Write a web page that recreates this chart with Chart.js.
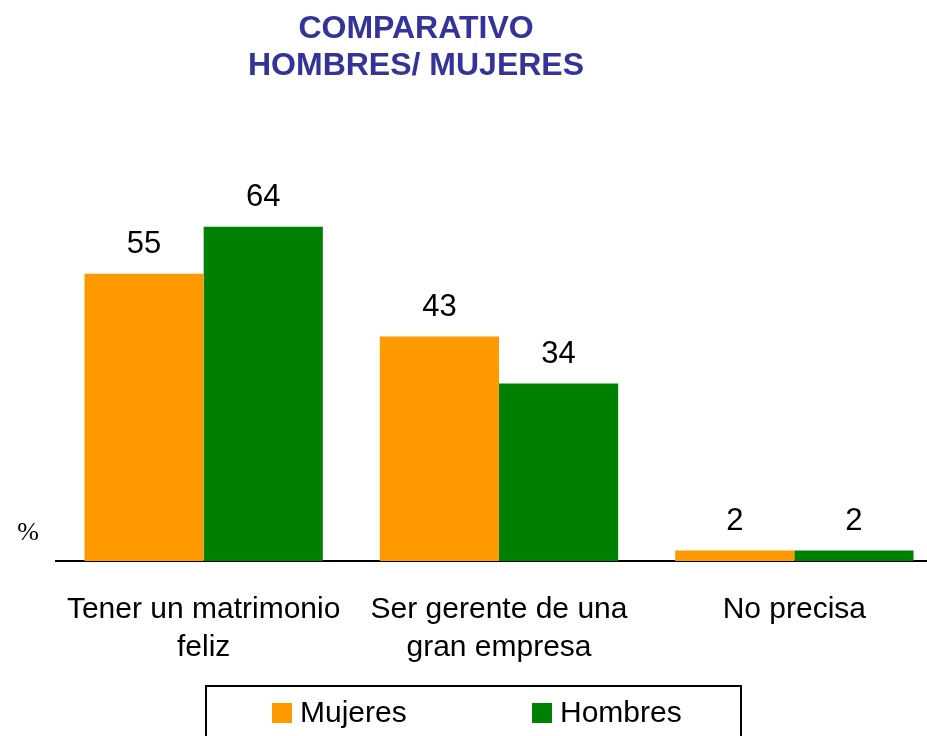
<!DOCTYPE html>
<html>
<head>
<meta charset="utf-8">
<script src="https://cdn.jsdelivr.net/npm/chart.js@4"></script>
<style>
  html, body { margin: 0; padding: 0; background: #fff; overflow: hidden; }
  #wrap { width: 945px; height: 736px; }
</style>
</head>
<body>
<div id="wrap"><canvas id="compChart"></canvas></div>
<script>
const categories = [['Tener un matrimonio', 'feliz'], ['Ser gerente de una', 'gran empresa'], 'No precisa'];
const mujeres = [55, 43, 2];
const hombres = [64, 34, 2];
const titleLines = ['COMPARATIVO', 'HOMBRES/ MUJERES'];
const seriesNames = ['Mujeres', 'Hombres'];
const seriesColors = ['#FF9900', '#008000'];

// title, "%" mark, value labels and boxed legend
const extras = {
    id: 'extras',
    afterDraw(chart) {
        const c = chart.ctx;
        c.save();
        c.textAlign = 'center';
        c.textBaseline = 'middle';
        c.fillStyle = '#333399';
        c.font = 'bold 32px "Liberation Sans", Arial, sans-serif';
        c.fillText(titleLines[0], 416, 29);
        c.fillText(titleLines[1], 416, 66);

        c.fillStyle = '#000';
        c.font = '26px "Liberation Serif", "Times New Roman", serif';
        c.fillText('%', 28, 533);

        c.font = '31px "Liberation Sans", Arial, sans-serif';
        chart.data.datasets.forEach((ds, i) => {
            chart.getDatasetMeta(i).data.forEach((bar, j) => {
                c.fillText(String(ds.data[j]), bar.x, bar.y - 29);
            });
        });

        // legend box
        c.strokeStyle = '#000';
        c.lineWidth = 2;
        c.strokeRect(206, 686, 535, 80);
        const items = [[272, 300], [532, 560]];
        c.textAlign = 'left';
        c.font = '30px "Liberation Sans", Arial, sans-serif';
        items.forEach((p, i) => {
            c.fillStyle = seriesColors[i];
            c.fillRect(p[0], 703, 20, 20);
            c.fillStyle = '#000';
            c.fillText(seriesNames[i], p[1], 714);
        });
        c.restore();
    }
};

const ctx = document.getElementById('compChart').getContext('2d');
new Chart(ctx, {
    type: 'bar',
    data: {
        labels: categories,
        datasets: [
            { label: seriesNames[0], data: mujeres, backgroundColor: seriesColors[0], borderWidth: 0 },
            { label: seriesNames[1], data: hombres, backgroundColor: seriesColors[1], borderWidth: 0 }
        ]
    },
    options: {
        responsive: true,
        maintainAspectRatio: false,
        animation: false,
        layout: { padding: { left: 56, right: 3, top: 91, bottom: 40 } },
        categoryPercentage: 0.807,
        barPercentage: 1,
        scales: {
            x: {
                grid: { display: false, drawTicks: false },
                border: { display: true, color: '#000', width: 2 },
                ticks: {
                    color: '#000',
                    padding: 30,
                    font: { family: '"Liberation Sans", Arial, sans-serif', size: 30, lineHeight: 1.25 }
                }
            },
            y: { display: false, min: 0, max: 90 }
        },
        plugins: {
            legend: { display: false },
            tooltip: { enabled: false },
            title: { display: false }
        }
    },
    plugins: [extras]
});
</script>
</body>
</html>
